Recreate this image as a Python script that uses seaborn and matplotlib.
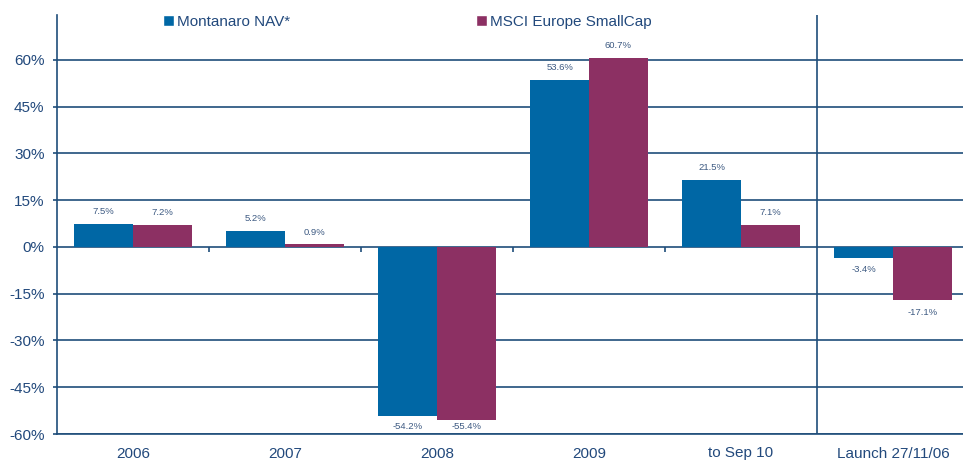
import matplotlib
matplotlib.use("Agg")
import matplotlib.pyplot as plt
import seaborn as sns
import pandas as pd
from matplotlib.patches import Patch

periods = ["2006", "2007", "2008", "2009", "to Sep 10", "Launch 27/11/06"]
series_names = ["Montanaro NAV*", "MSCI Europe SmallCap"]
montanaro = [7.5, 5.2, -54.2, 53.6, 21.5, -3.4]
msci = [7.2, 0.9, -55.4, 60.7, 7.1, -17.1]
yticks = [-60, -45, -30, -15, 0, 15, 30, 45, 60]

BLUE = "#0067A5"
PURPLE = "#8C3063"
LINE = "#1F4E7A"
TEXT = "#22497C"
LABEL = "#3D5A82"

df = pd.DataFrame({
    "period": periods * 2,
    "value": montanaro + msci,
    "series": [series_names[0]] * len(periods) + [series_names[1]] * len(periods),
})

sns.set_style("white")
plt.rcParams["font.family"] = ["Liberation Sans", "DejaVu Sans"]

fig = plt.figure(figsize=(9.63, 4.67), dpi=100)
ax = fig.add_axes([57 / 963, 1 - 434 / 467, 912 / 963, (434 - 15) / 467])

sns.barplot(data=df, x="period", y="value", hue="series", order=periods,
            hue_order=series_names, palette=[BLUE, PURPLE], width=0.77,
            saturation=1, gap=0, ax=ax, legend=False, zorder=3, errorbar=None,
            linewidth=0, edgecolor="none")

ax.set_xlim(-0.5, 5.5)
ax.set_ylim(-60, 74.4)

for c in ax.containers:
    anns = ax.bar_label(c, labels=[f"{v:.1f}%" for v in c.datavalues], padding=5.5,
                        fontsize=6.8, color=LABEL, zorder=4)
    for ann, v in zip(anns, c.datavalues):
        if v < -50:
            # keep label inside plotting area above the bottom axis line
            ann.xy = (ann.xy[0], -57.6)
            ann.xyann = (0, 0)
            ann.set_va("center")

ax.set_yticks(yticks)
ax.set_yticklabels([f"{t}%" for t in yticks])
ax.grid(axis="y", color=LINE, linewidth=1.2, zorder=0)
ax.set_axisbelow(True)
ax.axvline(4.5, color=LINE, linewidth=1.2, zorder=2)
ax.vlines([0.5, 1.5, 2.5, 3.5], -1.6, 0, color=LINE, linewidth=1.2, zorder=2)

for s in ["top", "right"]:
    ax.spines[s].set_visible(False)
for s in ["left", "bottom"]:
    ax.spines[s].set_color(LINE)
    ax.spines[s].set_linewidth(1.2)

ax.tick_params(axis="y", direction="out", length=3, width=1.2, color=LINE,
               labelsize=11, labelcolor=TEXT, pad=6, left=True)
ax.tick_params(axis="x", length=0, labelsize=11, labelcolor=TEXT, pad=9)
ax.set_xlabel("")
ax.set_ylabel("")

handles = [Patch(facecolor=BLUE), Patch(facecolor=PURPLE)]
fig.legend(handles, series_names, loc="upper left", bbox_to_anchor=(163 / 963, 1 - 15 / 467),
           ncol=2, frameon=False, fontsize=11, labelcolor=TEXT, handlelength=0.7,
           handleheight=0.7, handletextpad=0.2, columnspacing=12.2, borderpad=0,
           borderaxespad=0)

fig.savefig("out.png", dpi=100)
